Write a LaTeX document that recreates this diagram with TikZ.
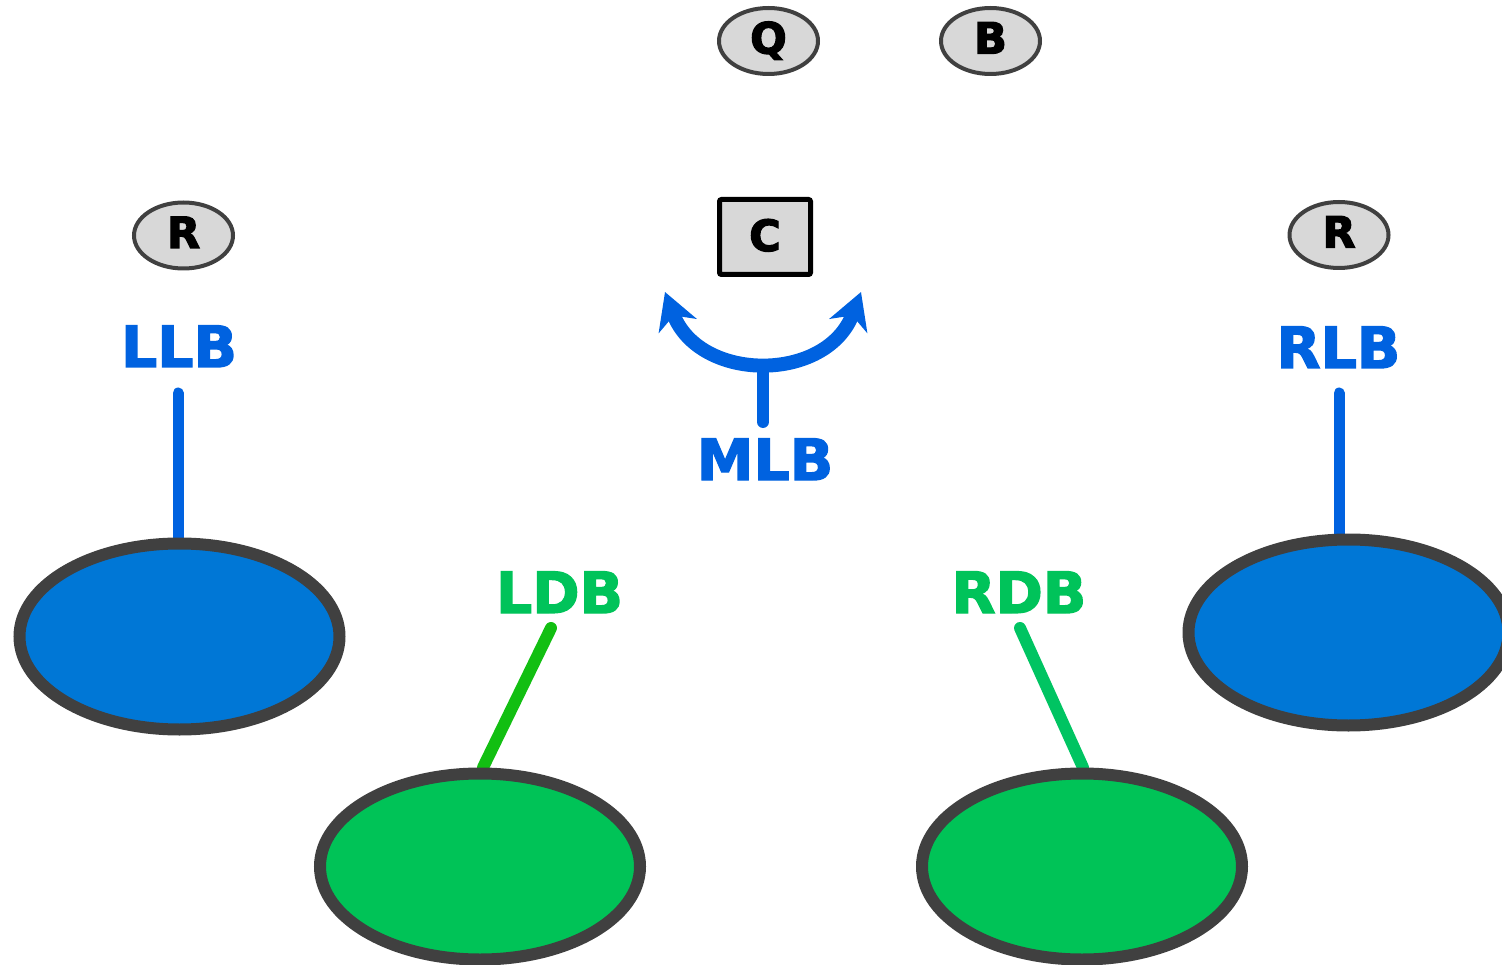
\documentclass[tikz,border=0pt]{standalone}
\usepackage{fontspec}
\setmainfont{DejaVu Sans}
\newfontfamily\heavyfont{DejaVu Sans Bold}[FakeBold=2.4]
\newfontfamily\blackfont{DejaVu Sans Bold}[FakeBold=3]
\usetikzlibrary{shapes.geometric,arrows.meta}
\pgfdeclarelayer{bg}
\pgfsetlayers{bg,main}
\definecolor{bluelab}{HTML}{0062E0}
\definecolor{bluefill}{HTML}{0077D6}
\definecolor{greenlab}{HTML}{00C35A}
\definecolor{greenfill}{HTML}{00C357}
\definecolor{ldbline}{HTML}{12BF12}
\definecolor{rdbline}{HTML}{00C462}
\definecolor{bordc}{HTML}{404040}
\definecolor{grayfill}{HTML}{D8D8D8}
\begin{document}
\begin{tikzpicture}[x=1pt,y=-1pt,
  smallell/.style={ellipse, draw=bordc, line width=4pt, fill=grayfill,
    minimum width=99pt, minimum height=66pt, inner sep=0pt,
    font=\fontsize{43}{43}\blackfont, text height=32pt, text depth=7pt},
  cbox/.style={rectangle, draw=black, line width=5pt, fill=grayfill,
    minimum width=91pt, minimum height=75pt, inner sep=0pt, rounded corners=2pt,
    font=\fontsize{43}{43}\blackfont, text height=32pt, text depth=4pt},
  bigell/.style={ellipse, draw=bordc, line width=12pt,
    minimum width=320pt, minimum height=186pt, inner sep=0pt},
  lbl/.style={anchor=base, inner sep=0pt, font=\fontsize{57}{57}\heavyfont},
  conn/.style={line width=11pt, line cap=round}]
\useasboundingbox (0,0) rectangle (1502,965);

% small markers
\node[smallell] (q) at (768.5,41) {Q};
\node[smallell] (b) at (990.5,41) {B};
\node[smallell] (rl) at (183.5,235.5) {R};
\node[smallell] (rr) at (1339,235) {R};
\node[cbox] (c) at (765,237) {C};

% labels
\node[lbl, text=bluelab] (llb) at (179,367) {LLB};
\node[lbl, text=bluelab] (mlb) at (765,480) {MLB};
\node[lbl, text=bluelab] (rlb) at (1338.5,368) {RLB};
\node[lbl, text=greenlab] (ldb) at (559.5,613) {LDB};
\node[lbl, text=greenlab] (rdb) at (1019,613) {RDB};

% big ellipses
\node[bigell, fill=bluefill] (lle) at (179.5,636.5) {};
\node[bigell, fill=bluefill] (rle) at (1348.5,632.5) {};
\node[bigell, fill=greenfill] (lde) at (480,866.5) {};
\node[bigell, fill=greenfill] (rde) at (1082,866.5) {};

% connector end points
\coordinate (llbt) at (178,393);
\coordinate (rlbt) at (1339,393);
\coordinate (ldbt) at (551,628);
\coordinate (rdbt) at (1020,628);
\coordinate (mlbt) at (763,422);
\coordinate (arcm) at (763,366);
\coordinate (al) at (665,292);
\coordinate (ar) at (861,292);

\begin{pgfonlayer}{bg}
\draw[conn, bluelab] (llbt) -- (llbt |- lle.north);
\draw[conn, bluelab] (rlbt) -- (rlbt |- rle.north);
\draw[conn, line width=12pt, ldbline] (ldbt) -- ([xshift=3pt]lde.north);
\draw[conn, line width=12pt, rdbline] (rdbt) -- ([xshift=1pt]rde.north);
\end{pgfonlayer}

\draw[conn, line width=12pt, bluelab] (mlbt) -- (arcm);
\draw[line width=14pt, bluelab,
  {Stealth[length=36pt, width=40pt, inset=11pt]}-{Stealth[length=36pt, width=40pt, inset=11pt]}]
  (al) .. controls (699,383) and (827,383) .. (ar);
\end{tikzpicture}
\end{document}
